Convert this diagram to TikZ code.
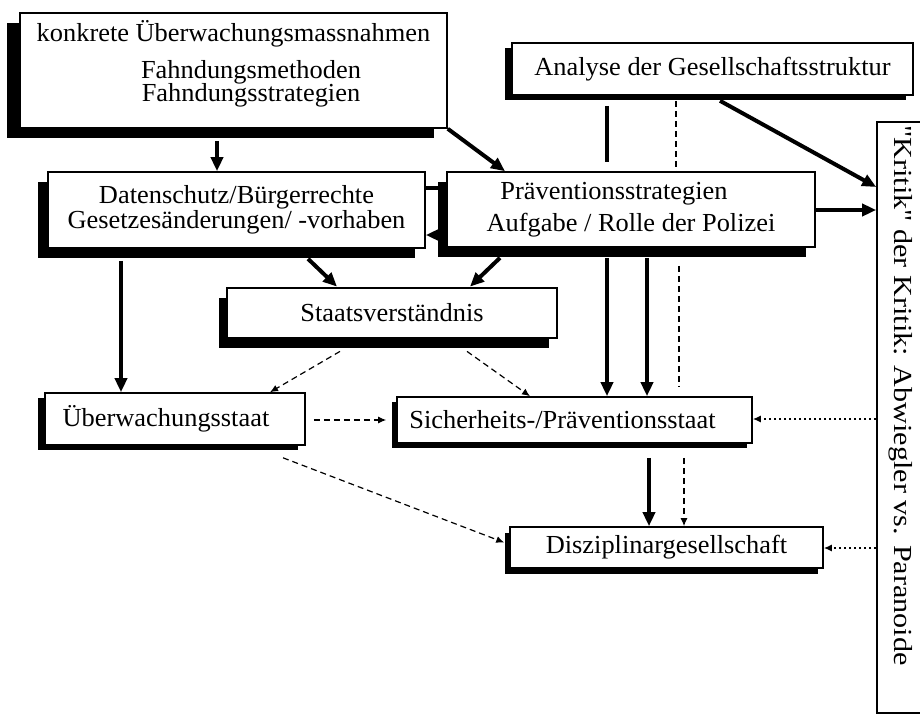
\documentclass[tikz,border=0pt]{standalone}
\usepackage{fontspec}
\setmainfont{Liberation Serif}[FakeStretch=1.015]
\newfontfamily\widefont{Liberation Serif}[FakeStretch=1.16]
\usetikzlibrary{arrows.meta,shadows,calc}
\tikzset{
  box/.style={draw, line width=0.8pt, fill=white, align=center, inner sep=0pt,
    font=\fontsize{13}{12.5}\selectfont},
  boxshadow/.style 2 args={drop shadow={shadow xshift=#1, shadow yshift=#2, fill=black, opacity=1}},
  heavy/.style={line width=2pt, -{Triangle[length=7pt,width=6pt]}},
  heavyline/.style={line width=2pt},
  dashline/.style={line width=0.6pt, dash pattern=on 3pt off 2pt},
  dasharrow/.style={dashline, -{Latex[length=4pt,width=3.5pt]}},
  dotarrow/.style={line width=0.7pt, dash pattern=on 1pt off 1.5pt, -{Latex[length=4pt,width=3.5pt]}}
}

\begin{document}
\begin{tikzpicture}[x=0.5pt, y=-0.5pt]
  \path[use as bounding box] (0,0) rectangle (920,722);
  \clip (0,0) rectangle (920,722);

  % boxes
  \node[box, boxshadow={-6.5pt}{-5pt}, minimum width=213.5pt, minimum height=57.5pt] (top) at (233.5,70.5)
    {konkrete Überwachungsmassnahmen\\[6pt]\hspace*{17.5pt}Fahndungsmethoden\\[-1pt]\hspace*{17.5pt}Fahndungsstrategien\\[-3pt]\rule{0pt}{0pt}};
  \node[box, boxshadow={-3.5pt}{-2.5pt}, minimum width=200.5pt, minimum height=26pt] (analyse) at (712.5,69)
    {Analyse der Gesellschaftsstruktur};
  \node[box, boxshadow={-5pt}{-5pt}, minimum width=188.5pt, minimum height=38pt] (daten) at (236.5,210)
    {Datenschutz/Bürgerrechte\\Gesetzesänderungen/ -vorhaben};
  \node[box, boxshadow={-4.5pt}{-5pt}, minimum width=184pt, minimum height=37.5pt] (praev) at (631,209.5)
    {\hspace*{-17pt}Präventionsstrategien\\[3.5pt]Aufgabe / Rolle der Polizei};
  \node[box, line width=1.4pt, boxshadow={-4pt}{-5pt}, minimum width=165pt, minimum height=25pt] (staat) at (392,313)
    {Staatsverständnis};
  \node[box, boxshadow={-3.5pt}{-2.5pt}, minimum width=130pt, minimum height=26pt] (ueberw) at (175,419)
    {\hspace*{-9pt}Überwachungsstaat};
  \node[box, boxshadow={-2.5pt}{-2.5pt}, minimum width=177.5pt, minimum height=23pt] (sicher) at (574.5,420)
    {\hspace*{-12pt}Sicherheits-/Präventionsstaat};
  \node[box, boxshadow={-2.5pt}{-3pt}, minimum width=156.5pt, minimum height=20.5pt] (diszi) at (666.5,547.5)
    {Disziplinargesellschaft};
  \node[draw, line width=0.8pt, rotate=-90, minimum width=295.5pt, minimum height=24pt, inner sep=0pt,
    font=\widefont\fontsize{13}{13}\selectfont] (kritik) at (901,417.5)
    {\hspace*{-22pt}"Kritik" der Kritik: Abwiegler vs. Paranoide};

  % solid connectors
  \draw[heavy, shorten <=6pt] (top.south -| 217,0) -- (daten.north -| 217,0);
  \draw[heavy] (top.south east) -- (praev.north -| 505,0);
  \draw[heavyline, shorten <=5pt, shorten >=4.5pt] (analyse.south -| 607,0) -- (praev.north -| 607,0);
  \draw[heavyline] (daten.east |- 0,188) -- (praev.west |- 0,188);
  \draw[heavy, shorten <=4.5pt] (praev.west |- 0,235) -- (daten.east |- 0,235);
  \draw[heavy, shorten <=6pt] (daten.south -| 121,0) -- (ueberw.north -| 121,0);
  \draw[heavy] ([shift={(71.5,10)}]daten.south) -- (staat.north -| 337,0);
  \draw[heavy] ([shift={(-131,10)}]praev.south) -- (staat.north -| 470,0);
  \draw[heavy, shorten <=5pt] (praev.south -| 607,0) -- (sicher.north -| 607,0);
  \draw[heavy, shorten <=5pt] (praev.south -| 647,0) -- (sicher.north -| 647,0);
  \draw[heavy, shorten <=7pt] (sicher.south -| 649,0) -- (diszi.north -| 649,0);
  \draw[heavy] ([shift={(7.5,5)}]analyse.south) -- (kritik.south |- 0,187);
  \draw[heavy] (praev.east |- 0,210) -- (kritik.south |- 0,210);

  % dashed and dotted connectors
  \draw[dashline, shorten <=2.5pt] (analyse.south -| 676,0) -- (praev.north -| 676,0);
  \draw[dashline, shorten <=9pt, shorten >=5pt] (praev.south -| 679,0) -- (sicher.north -| 679,0);
  \draw[dasharrow, shorten <=7pt] (sicher.south -| 684,0) -- (diszi.north -| 684,0);
  \draw[dasharrow] ([shift={(-52,12)}]staat.south) -- (ueberw.north -| 270,0);
  \draw[dasharrow] ([shift={(75,12)}]staat.south) -- (sicher.north -| 530,0);
  \draw[dasharrow, shorten <=4pt, shorten >=5pt] (ueberw.east |- 0,420) -- (sicher.west |- 0,420);
  \draw[dasharrow] ([shift={(108,12)}]ueberw.south) -- ([shift={(-5,-5)}]diszi.west);
  \draw[dotarrow] (kritik.south |- 0,419) -- (sicher.east |- 0,419);
  \draw[dotarrow] (kritik.south |- 0,548) -- (diszi.east |- 0,548);
\end{tikzpicture}
\end{document}
